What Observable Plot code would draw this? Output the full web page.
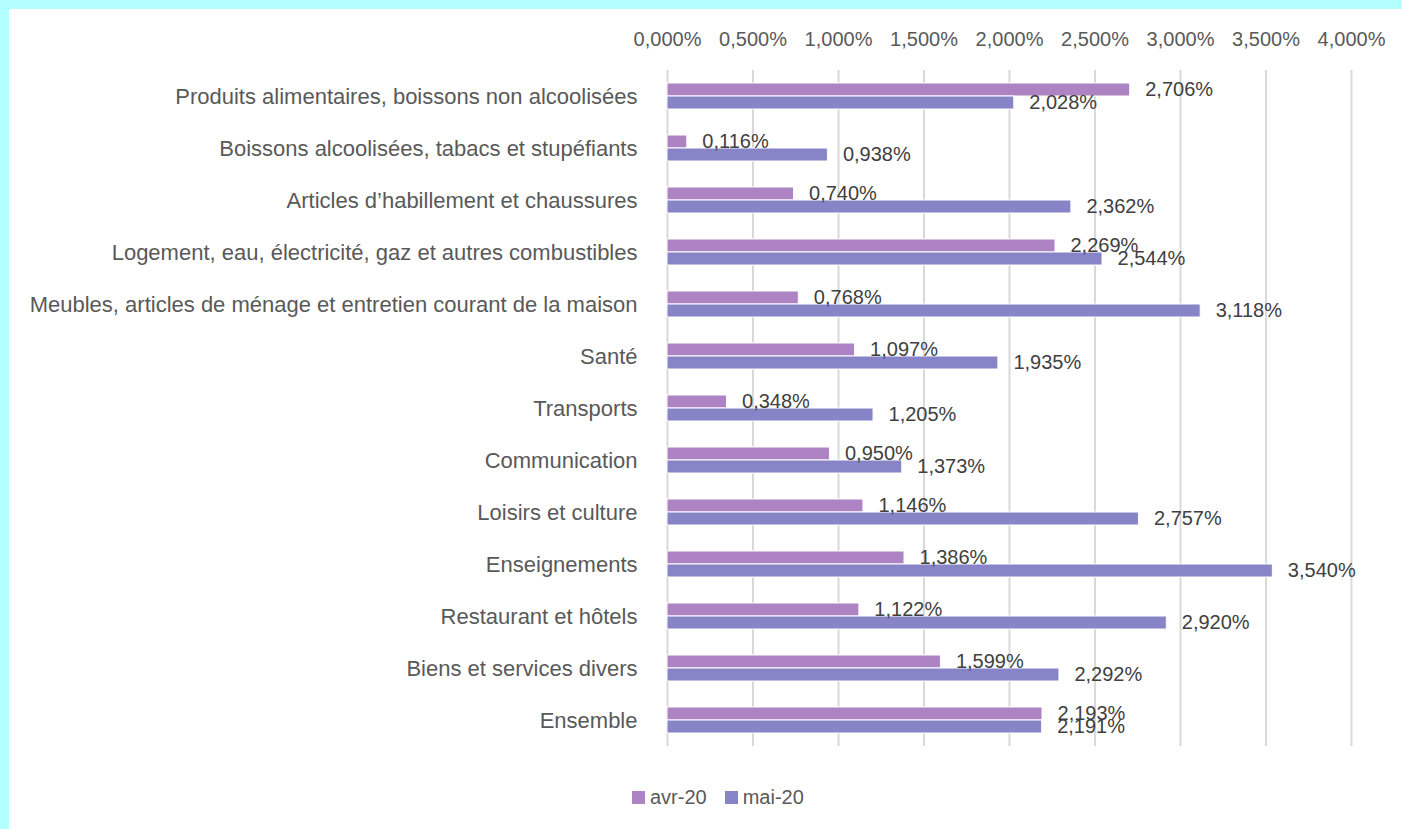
<!DOCTYPE html>
<html><head><meta charset="utf-8">
<script src="https://cdn.jsdelivr.net/npm/d3@7"></script>
<script src="https://cdn.jsdelivr.net/npm/@observablehq/plot@0.6"></script>
<style>
body{margin:0;background:#b3ffff;width:1402px;height:829px;overflow:hidden;font-family:"Liberation Sans",Arial,sans-serif}
#card{position:absolute;left:9px;top:9px;width:1393px;height:820px;background:#fff}
#chart{position:absolute;left:0;top:0}
#legend{position:absolute;left:623px;top:777px;display:flex;align-items:center;font-size:20px;color:#595959}
.sw{width:13px;height:13px;display:inline-block;margin-right:5px}
.item{display:flex;align-items:center;margin-right:18px}
</style></head>
<body><div id="card"><div id="chart"></div><div id="legend"></div></div>
<script>
const categories = [
  "Produits alimentaires, boissons non alcoolisées",
  "Boissons alcoolisées, tabacs et stupéfiants",
  "Articles d’habillement et chaussures",
  "Logement, eau, électricité, gaz et autres combustibles",
  "Meubles, articles de ménage et entretien courant de la maison",
  "Santé",
  "Transports",
  "Communication",
  "Loisirs et culture",
  "Enseignements",
  "Restaurant et hôtels",
  "Biens et services divers",
  "Ensemble"
];
const series = ["avr-20", "mai-20"];
const avr = [2.706, 0.116, 0.740, 2.269, 0.768, 1.097, 0.348, 0.950, 1.146, 1.386, 1.122, 1.599, 2.193];
const mai = [2.028, 0.938, 2.362, 2.544, 3.118, 1.935, 1.205, 1.373, 2.757, 3.540, 2.920, 2.292, 2.191];
const colors = ["#ae83c4", "#8784c7"];
const xTicks = [0, 0.5, 1, 1.5, 2, 2.5, 3, 3.5, 4];

const data = categories.flatMap((c, i) => [
  {category: c, series: series[0], value: avr[i]},
  {category: c, series: series[1], value: mai[i]}
]);
const fmt = v => v.toFixed(3).replace(".", ",") + "%";
const FONT = '"Liberation Sans",Arial,sans-serif';

const chart = Plot.plot({
  width: 1393, height: 760,
  marginTop: 57, marginBottom: 20, marginLeft: 658, marginRight: 51,
  style: {fontFamily: FONT, fontSize: "22px", color: "#595959", background: "transparent", overflow: "visible"},
  x: {domain: [0, 4], ticks: xTicks},
  y: {domain: series, paddingInner: 0, paddingOuter: 0.95, axis: null},
  fy: {domain: categories, padding: 0, label: null},
  color: {domain: series, range: colors},
  marks: [
    Plot.gridX(xTicks, {stroke: "#d9d9d9", strokeOpacity: 1, strokeWidth: 2}),
    Plot.axisX(xTicks, {anchor: "top", tickSize: 0, tickPadding: 25, tickFormat: fmt, fill: "#595959", fontSize: 20, label: null}),
    Plot.axisFy({anchor: "left", tickSize: 0, tickPadding: 30, label: null, fill: "#595959"}),
    Plot.barX(data, {x: "value", y: "series", fy: "category", fill: "series", stroke: "#ffffff", strokeWidth: 1}),
    Plot.text(data, {x: "value", y: "series", fy: "category", text: d => fmt(d.value), dx: 15, textAnchor: "start", fill: "#404040", fontSize: 20})
  ]
});
document.getElementById("chart").appendChild(chart);

const legend = document.getElementById("legend");
series.forEach((s, i) => {
  const item = document.createElement("div");
  item.className = "item";
  const sw = document.createElement("span");
  sw.className = "sw";
  sw.style.background = colors[i];
  const t = document.createElement("span");
  t.textContent = s;
  item.appendChild(sw);
  item.appendChild(t);
  legend.appendChild(item);
});
</script>
</body></html>
